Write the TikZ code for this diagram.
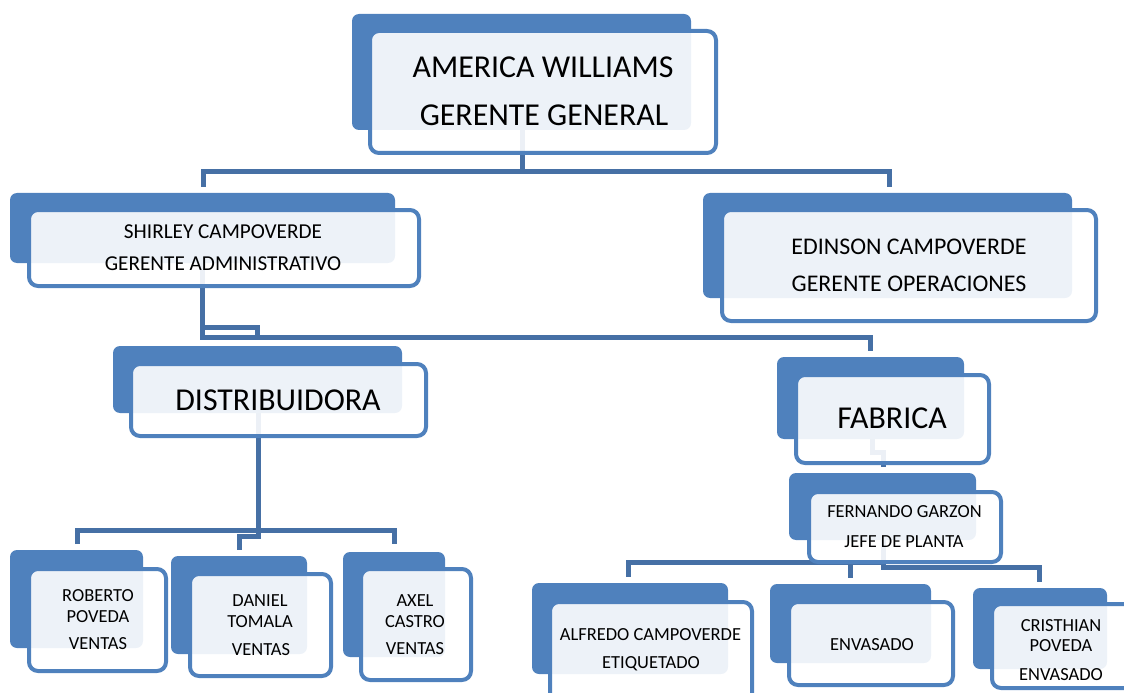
\documentclass[tikz,border=0pt]{standalone}
\usepackage{fontspec}
\setmainfont{Carlito}
\usetikzlibrary{fit}
\definecolor{boxblue}{RGB}{79,129,189}
\definecolor{linkblue}{RGB}{70,112,165}
\pgfdeclarelayer{bg}
\pgfsetlayers{bg,main}
\tikzset{
  backbox/.style={fill=boxblue, rounded corners=7bp, inner sep=0pt, outer sep=0pt},
  frontbox/.style={fill=white, fill opacity=0.9, draw=boxblue, line width=4bp,
    rounded corners=9bp, inner sep=0pt, outer sep=0pt},
  link/.style={draw=linkblue, line width=5bp},
  lbl/.style={inner sep=0pt, text depth=0pt, anchor=center, text=black},
  bigtxt/.style={lbl, text height=20.2bp, font=\fontsize{32}{38}\selectfont},
  opstxt/.style={lbl, text height=15.2bp, font=\fontsize{24}{29}\selectfont},
  admtxt/.style={lbl, text height=13.5bp, font=\fontsize{21.3}{26}\selectfont},
  smalltxt/.style={lbl, text height=11.7bp, font=\fontsize{18.5}{22}\selectfont},
}
% back panel corners, then front panel corners
\newcommand{\orgbox}[5]{%
  \node[backbox, fit={#2 #3}] (#1-b) {};
  \node[frontbox, fit={#4 #5}] (#1) {};
}
\begin{document}
\begin{tikzpicture}[x=1bp, y=-1bp]
\useasboundingbox (0,0) rectangle (1124,693);

% ---- panels ----
\orgbox{gm}{(352,14)}{(691,130)}{(370,31)}{(716,153)}
\orgbox{adm}{(10,193)}{(395,263)}{(29,210)}{(419,286)}
\orgbox{ops}{(703,193)}{(1072,298)}{(722,210)}{(1096,321)}
\orgbox{dist}{(113,346)}{(402,413)}{(131,364)}{(426,436)}
\orgbox{fab}{(777,357)}{(964,439)}{(796,375)}{(989,463)}
\orgbox{jefe}{(789,473)}{(976,540)}{(809,492)}{(1001,562)}
\orgbox{rob}{(10,550)}{(143,648)}{(29,569)}{(166,671)}
\orgbox{dan}{(171,556)}{(307,654)}{(190,574)}{(331,676)}
\orgbox{axel}{(343,552)}{(445,657)}{(361,569)}{(471,680)}
\orgbox{alf}{(532,583)}{(728,674)}{(550,602)}{(752,705)}
\orgbox{env}{(770,584)}{(931,663)}{(789,602)}{(953,685)}
\orgbox{cri}{(973,588)}{(1107,669)}{(992,604)}{(1140,688)}

% ---- labels ----
\node[bigtxt] (gm-t1) at (543,67) {AMERICA WILLIAMS};
\node[bigtxt] (gm-t2) at (544,115) {GERENTE GENERAL};
\node[admtxt] (adm-t1) at (223,231.5) {SHIRLEY CAMPOVERDE};
\node[admtxt] (adm-t2) at (223,264) {GERENTE ADMINISTRATIVO};
\node[opstxt] (ops-t1) at (909,246.5) {EDINSON CAMPOVERDE};
\node[opstxt] (ops-t2) at (909,284) {GERENTE OPERACIONES};
\node[bigtxt] (dist-t) at (278,400) {DISTRIBUIDORA};
\node[bigtxt] (fab-t) at (892,418) {FABRICA};
\node[smalltxt] (jefe-t1) at (904.5,512) {FERNANDO GARZON};
\node[smalltxt] (jefe-t2) at (904,541.5) {JEFE DE PLANTA};
\node[smalltxt] (rob-t1) at (98,595.5) {ROBERTO};
\node[smalltxt] (rob-t2) at (98,616.5) {POVEDA};
\node[smalltxt] (rob-t3) at (98,644) {VENTAS};
\node[smalltxt] (dan-t1) at (260,601) {DANIEL};
\node[smalltxt] (dan-t2) at (260,622) {TOMALA};
\node[smalltxt] (dan-t3) at (261,650) {VENTAS};
\node[smalltxt] (axel-t1) at (415,600.5) {AXEL};
\node[smalltxt] (axel-t2) at (415,621.5) {CASTRO};
\node[smalltxt] (axel-t3) at (415,649) {VENTAS};
\node[smalltxt] (alf-t1) at (650.5,634.5) {ALFREDO CAMPOVERDE};
\node[smalltxt] (alf-t2) at (651,663) {ETIQUETADO};
\node[smalltxt] (env-t) at (872,644.5) {ENVASADO};
\node[smalltxt] (cri-t1) at (1061,625.5) {CRISTHIAN};
\node[smalltxt] (cri-t2) at (1061,645.5) {POVEDA};
\node[smalltxt] (cri-t3) at (1061,675) {ENVASADO};

% ---- connectors (beneath the panels) ----
\coordinate (t0) at (522,172);
\coordinate (tL) at (203,172);
\coordinate (tR) at (889,172);
\coordinate (tLe) at (203,187);
\coordinate (tRe) at (889,187);

\coordinate (a0) at (202,337);
\coordinate (a1) at (870,337);
\coordinate (a1e) at (870,351);
\coordinate (a2) at (202,327);
\coordinate (a3) at (257,327);
\coordinate (a3e) at (257,339);

\coordinate (d0) at (258,536);
\coordinate (d1) at (239,536);
\coordinate (d1e) at (239,550);
\coordinate (dL) at (77,530);
\coordinate (dR) at (394,530);
\coordinate (dLe) at (77,544);
\coordinate (dRe) at (394,544);

\coordinate (f0) at (872,439);
\coordinate (f1) at (872,452);
\coordinate (f2) at (883,452);
\coordinate (f2e) at (883,467);

\coordinate (j0) at (883,567);
\coordinate (jR) at (1039,567);
\coordinate (jRe) at (1039,582);
\coordinate (j1) at (883,562);
\coordinate (jL) at (628,562);
\coordinate (jLe) at (628,577);
\coordinate (jM) at (850,562);
\coordinate (jMe) at (850,578);

\begin{pgfonlayer}{bg}
  \draw[link] (gm-b.south -| t0) -- (t0);
  \draw[link] (tLe) -- (tL) -- (tR) -- (tRe);

  \draw[link] (adm-b.south -| a0) -- (a0) -- (a1) -- (a1e);
  \draw[link] (a2) -- (a3) -- (a3e);

  \draw[link] (dist-b.south -| d0) -- (d0) -- (d1) -- (d1e);
  \draw[link] (dLe) -- (dL) -- (dR) -- (dRe);

  \draw[link] (fab-b.south -| f0) -- (f1) -- (f2) -- (f2e);

  \draw[link] (jefe-b.south -| j0) -- (j0) -- (jR) -- (jRe);
  \draw[link] (j1) -- (jL) -- (jLe);
  \draw[link] (jM) -- (jMe);
\end{pgfonlayer}
\end{tikzpicture}
\end{document}
